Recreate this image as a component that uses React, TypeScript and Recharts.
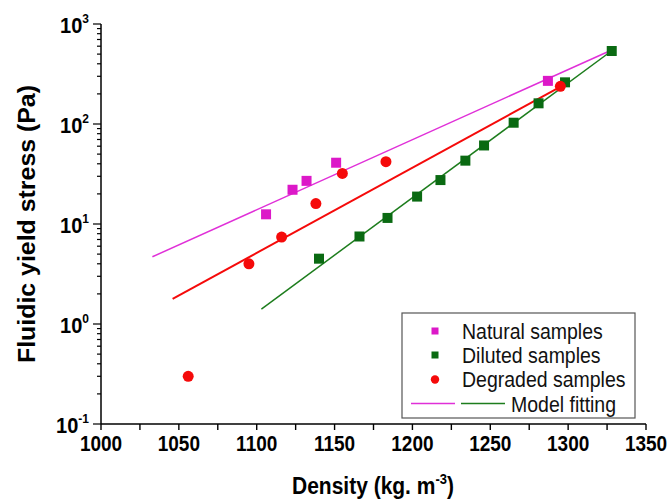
import { Scatter, ScatterChart, XAxis, YAxis } from "recharts";

// measured samples (density kg/m3, fluidic yield stress Pa)
const naturalDensity = [1106, 1123, 1132, 1151, 1287];
const naturalStress = [12.5, 22, 27, 41, 270];

const dilutedDensity = [1140, 1166, 1184, 1203, 1218, 1234, 1246, 1265, 1281, 1298, 1328];
const dilutedStress = [4.5, 7.5, 11.5, 18.8, 27.5, 43, 61, 103, 161, 261, 537];

const degradedDensity = [1056, 1095, 1116, 1138, 1155, 1183, 1295];
const degradedStress = [0.3, 4.0, 7.4, 16, 32, 42, 238];

// model fitting lines (end points)
const naturalFitDensity = [1033, 1328];
const naturalFitStress = [4.7, 550];
const degradedFitDensity = [1046, 1297];
const degradedFitStress = [1.78, 245];
const dilutedFitDensity = [1103, 1328];
const dilutedFitStress = [1.41, 540];

const xMajorTicks = [1000, 1050, 1100, 1150, 1200, 1250, 1300, 1350];
const xMinorTicks = [1025, 1075, 1125, 1175, 1225, 1275, 1325];
const xTopTicks = [1035, 1070, 1105, 1140, 1175, 1210, 1245, 1280, 1315];
const yDecades = [0.1, 1, 10, 100, 1000];
const yExponents = ["-1", "0", "1", "2", "3"];
const yMinorSteps = [2, 3, 4, 5, 6, 7, 8, 9];
const rightTicks = [1, 2, 3, 4, 5, 6, 7, 8, 9];

const toPoints = (xs: number[], ys: number[]) => xs.map((d, i) => ({ density: d, stress: ys[i] }));

const natural = toPoints(naturalDensity, naturalStress);
const diluted = toPoints(dilutedDensity, dilutedStress);
const degraded = toPoints(degradedDensity, degradedStress);
const naturalFit = toPoints(naturalFitDensity, naturalFitStress);
const degradedFit = toPoints(degradedFitDensity, degradedFitStress);
const dilutedFit = toPoints(dilutedFitDensity, dilutedFitStress);

const yMinorTicks = yDecades.slice(0, -1).flatMap((d) => yMinorSteps.map((m) => d * m));

const FONT = "Arial, 'Liberation Sans', sans-serif";
const MAGENTA = "#dc18c8";
const MAGENTA_LINE = "#e030d8";
const GREEN = "#0a6a12";
const GREEN_LINE = "#1d7d1d";
const RED = "#f50a0a";
const STRETCH = 1.14; // the source text is a bit taller than wide

// text drawn around its baseline point and stretched vertically
const Tall = ({ x, y, children, ...rest }: any) => (
  <g transform={`translate(${x},${y}) scale(1,${STRETCH})`}>
    <text x={0} y={0} fontFamily={FONT} fill="#000" {...rest}>
      {children}
    </text>
  </g>
);

const BottomTick = ({ x, y, payload }: any) => {
  const major = xMajorTicks.includes(payload.value);
  return (
    <g>
      <line x1={x} x2={x} y1={y} y2={y + 6} stroke="#000" strokeWidth={1.4} />
      {major ? (
        <Tall x={x} y={y + 27} textAnchor="middle" fontSize={19} fontWeight={700}>
          {payload.value}
        </Tall>
      ) : null}
    </g>
  );
};

const TopTick = ({ x, y }: any) => (
  <line x1={x} x2={x} y1={y} y2={y + 7} stroke="#000" strokeWidth={1.4} />
);

const LeftTick = ({ x, y, payload }: any) => {
  const idx = yDecades.indexOf(payload.value);
  const major = idx >= 0;
  return (
    <g>
      <line x1={x - (major ? 8 : 4)} x2={x} y1={y} y2={y} stroke="#000" strokeWidth={1.2} />
      {major ? (
        <Tall x={x - 12} y={y + 9} textAnchor="end" fontSize={20} fontWeight={700}>
          10
          <tspan dy={-9} fontSize={12}>
            {yExponents[idx]}
          </tspan>
        </Tall>
      ) : null}
    </g>
  );
};

const RightTick = ({ x, y }: any) => (
  <line x1={x - 7} x2={x} y1={y} y2={y} stroke="#000" strokeWidth={1.4} />
);

const square = (color: string, size: number) => (props: any) =>
  <rect x={props.cx - size / 2} y={props.cy - size / 2} width={size} height={size} fill={color} />;

const dot = (color: string, r: number) => (props: any) => <circle cx={props.cx} cy={props.cy} r={r} fill={color} />;

const noMark = () => <g />;

export default function App() {
  return (
    <div style={{ position: "absolute", left: 0, top: 0, width: 667, height: 499, background: "#fff" }}>
      <ScatterChart width={667} height={499} margin={{ top: 24, right: 21, bottom: 0, left: 0 }}>
        <XAxis
          dataKey="density"
          type="number"
          domain={[1000, 1350]}
          ticks={[...xMajorTicks, ...xMinorTicks].sort((a, b) => a - b)}
          interval={0}
          allowDataOverflow
          height={75}
          tickSize={0}
          tickMargin={0}
          tickLine={false}
          tick={<BottomTick />}
          axisLine={{ stroke: "#000", strokeWidth: 1.5 }}
        />
        <XAxis
          xAxisId="top"
          orientation="top"
          type="number"
          domain={[1000, 1350]}
          ticks={xTopTicks}
          interval={0}
          allowDataOverflow
          height={0}
          tickSize={0}
          tickMargin={0}
          tickLine={false}
          tick={<TopTick />}
          axisLine={{ stroke: "#000", strokeWidth: 1.5 }}
        />
        <YAxis
          dataKey="stress"
          type="number"
          scale="log"
          domain={[0.1, 1000]}
          ticks={[...yDecades, ...yMinorTicks].sort((a, b) => a - b)}
          interval={0}
          allowDataOverflow
          width={101}
          tickSize={0}
          tickMargin={0}
          tickLine={false}
          tick={<LeftTick />}
          axisLine={{ stroke: "#000", strokeWidth: 1.5 }}
        />
        <YAxis
          yAxisId="right"
          orientation="right"
          type="number"
          domain={[0, 10]}
          ticks={rightTicks}
          interval={0}
          allowDataOverflow
          width={0}
          tickSize={0}
          tickMargin={0}
          tickLine={false}
          tick={<RightTick />}
          axisLine={{ stroke: "#000", strokeWidth: 1.5 }}
        />
        <Scatter data={naturalFit} line={{ stroke: MAGENTA_LINE, strokeWidth: 1.5 }} shape={noMark} isAnimationActive={false} />
        <Scatter data={degradedFit} line={{ stroke: RED, strokeWidth: 2 }} shape={noMark} isAnimationActive={false} />
        <Scatter data={dilutedFit} line={{ stroke: GREEN_LINE, strokeWidth: 1.5 }} shape={noMark} isAnimationActive={false} />
        <Scatter data={natural} shape={square(MAGENTA, 10)} isAnimationActive={false} />
        <Scatter data={diluted} shape={square(GREEN, 10)} isAnimationActive={false} />
        <Scatter data={degraded} shape={dot(RED, 5.5)} isAnimationActive={false} />
      </ScatterChart>

      <svg
        width={667}
        height={499}
        style={{ position: "absolute", left: 0, top: 0, pointerEvents: "none" }}
        fontFamily={FONT}
      >
        <Tall x={373} y={494} textAnchor="middle" fontSize={21} fontWeight={700}>
          Density (kg. m
          <tspan dy={-9} fontSize={13}>
            -3
          </tspan>
          <tspan dy={9}>)</tspan>
        </Tall>
        <text
          x={0}
          y={0}
          transform="translate(35,224) rotate(-90)"
          textAnchor="middle"
          fontSize={23}
          fontWeight={700}
          fill="#000"
          textLength={278}
          lengthAdjust="spacingAndGlyphs"
        >
          Fluidic yield stress (Pa)
        </text>

        <rect x={402} y={313} width={233} height={105} fill="#fff" stroke="#555" strokeWidth={1.2} />
        <rect x={431.5} y={327.5} width={7} height={7} fill={MAGENTA} />
        <rect x={431.5} y={351.5} width={7} height={7} fill={GREEN} />
        <circle cx={435} cy={379.5} r={4.2} fill={RED} />
        <line x1={411} x2={455} y1={403.5} y2={403.5} stroke={MAGENTA_LINE} strokeWidth={1.5} />
        <line x1={461} x2={505} y1={403.5} y2={403.5} stroke={GREEN_LINE} strokeWidth={1.5} />
        <Tall x={462} y={338.5} fontSize={19.5} fill="#111">Natural samples</Tall>
        <Tall x={462} y={362.5} fontSize={19.5} fill="#111">Diluted samples</Tall>
        <Tall x={462} y={387} fontSize={19.5} fill="#111">Degraded samples</Tall>
        <Tall x={511} y={411.5} fontSize={19.5} fill="#111">Model fitting</Tall>
      </svg>
    </div>
  );
}
